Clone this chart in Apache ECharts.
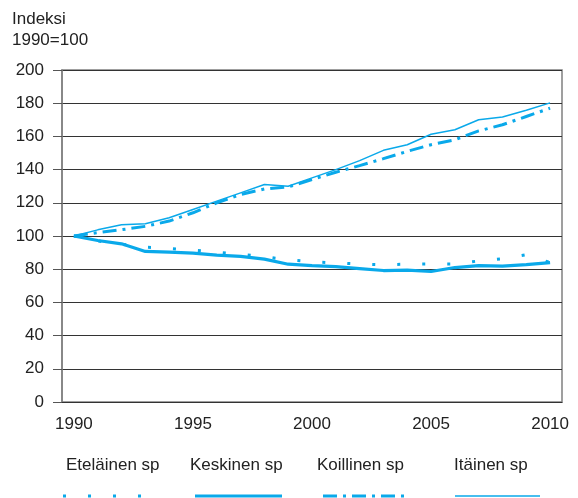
<!DOCTYPE html>
<html>
<head>
<meta charset="utf-8">
<script src="https://cdn.jsdelivr.net/npm/echarts@6/dist/echarts.min.js"></script>
<style>
html, body { margin: 0; padding: 0; background: #fff; }
#chart { width: 578px; height: 498px; }
</style>
</head>
<body>
<div id="chart"></div>
<script>
var years = ['1990', '1991', '1992', '1993', '1994', '1995', '1996', '1997', '1998', '1999', '2000',
    '2001', '2002', '2003', '2004', '2005', '2006', '2007', '2008', '2009', '2010']

var etelainen = [100, 97, 95, 93.3, 92.5, 91.5, 90.3, 89, 87.5, 85.7, 84.5,
    83.8, 83.1, 82.7, 83, 83.1, 83.1, 85, 86.3, 88.7, 84]
var keskinen = [100, 97.3, 95.3, 90.7, 90.3, 89.7, 88.5, 87.7, 86.1, 83, 82.2,
    81.6, 80.4, 79.2, 79.4, 78.6, 81, 82.2, 81.9, 82.7, 84]
var koillinen = [100, 102, 103.8, 105.8, 109, 114, 120, 125, 128.3, 129.5, 134,
    138.4, 142.4, 146.6, 151, 155, 158, 163.3, 167, 172, 177]
var itainen = [100, 103.7, 106.8, 107.4, 111, 116, 121, 126, 131, 130, 135,
    140, 145.4, 151.6, 155, 161.3, 164, 170, 171.7, 175.8, 180.2]

var seriesNames = ['Eteläinen sp', 'Keskinen sp', 'Koillinen sp', 'Itäinen sp']

var blue = '#0aa9ea'
var font = 'Liberation Sans, Arial, sans-serif'
var fsize = 17

// viivatyylit: pisteet, paksu, piste-viiva, ohut
var styles = [
    { width: 3, type: [3, 22] },
    { width: 3.2, type: 'solid' },
    { width: 3, type: [14, 6, 3, 6] },
    { width: 1.5, type: 'solid' }
]
var legendX = [66, 190, 317, 454]
var sampleX = [[63, 145], [195, 282], [323, 408], [455, 540]]

var chart = echarts.init(document.getElementById('chart'))

var graphics = [
    { type: 'text', left: 12, top: 11, style: { text: 'Indeksi', font: fsize + 'px ' + font, fill: '#222' } },
    { type: 'text', left: 12, top: 32, style: { text: '1990=100', font: fsize + 'px ' + font, fill: '#222' } }
]
seriesNames.forEach(function(name, i) {
    graphics.push({
        type: 'text', left: legendX[i], top: 457,
        style: { text: name, font: fsize + 'px ' + font, fill: '#222' }
    })
    graphics.push({
        type: 'line',
        shape: { x1: sampleX[i][0], y1: 496, x2: sampleX[i][1], y2: 496 },
        style: { stroke: blue, lineWidth: styles[i].width, lineDash: styles[i].type === 'solid' ? null : styles[i].type }
    })
})

var data = [etelainen, keskinen, koillinen, itainen]

var option = {
    animation: false,
    grid: {
        left: 62,
        right: 16,
        top: 70,
        bottom: 96,
        show: true,
        borderColor: '#808080',
        borderWidth: 1.5
    },
    xAxis: {
        type: 'category',
        data: years,
        boundaryGap: true,
        axisLine: { lineStyle: { color: '#333', width: 1 } },
        axisTick: { alignWithLabel: true, interval: 0, length: 8, lineStyle: { color: '#333' } },
        axisLabel: { interval: 4, margin: 14, color: '#222', fontSize: fsize, fontFamily: font }
    },
    yAxis: {
        type: 'value',
        min: 0,
        max: 200,
        interval: 20,
        axisLine: { show: true, lineStyle: { color: '#808080', width: 1.5 } },
        axisTick: { show: true, length: 9, lineStyle: { color: '#555' } },
        axisLabel: { margin: 18, color: '#222', fontSize: fsize, fontFamily: font },
        splitLine: { lineStyle: { color: '#333', width: 1 } }
    },
    graphic: graphics,
    series: data.map(function(d, i) {
        return {
            name: seriesNames[i],
            type: 'line',
            data: d,
            symbol: 'none',
            z: 10 - i,
            lineStyle: { color: blue, width: styles[i].width, type: styles[i].type }
        }
    })
}

chart.setOption(option)
</script>
</body>
</html>
